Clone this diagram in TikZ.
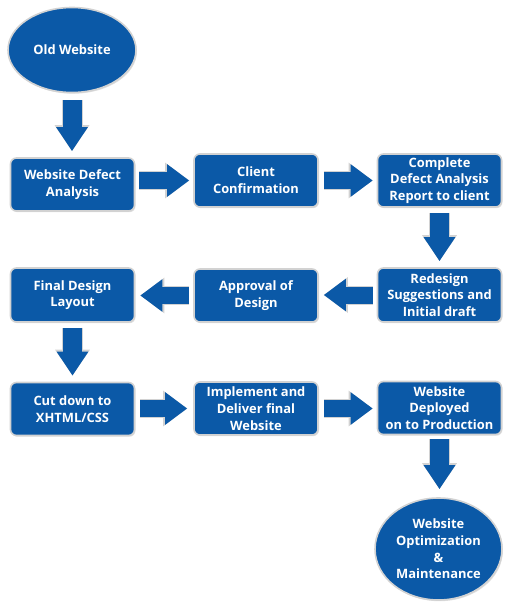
\documentclass[tikz,border=0pt]{standalone}
\usepackage{fontspec}
\setmainfont{Open Sans}
\usetikzlibrary{shapes.geometric,arrows.meta,shadows}
\definecolor{bl}{HTML}{0B59A7}
\definecolor{rim}{HTML}{D2D2D2}
\begin{document}
\begin{tikzpicture}[x=1pt,y=-1pt,
  txt/.style={text=white,font=\fontsize{12.9}{16.7}\selectfont\bfseries,align=center},
  box/.style={txt,rectangle,rounded corners=6pt,fill=bl,draw=rim,line width=1.6pt,
    minimum width=124pt,minimum height=53pt,inner sep=0pt,
    drop shadow={shadow xshift=1pt,shadow yshift=-1.2pt,opacity=0.25}},
  oval/.style={txt,ellipse,fill=bl,draw=rim,line width=1.6pt,inner sep=0pt,
    drop shadow={shadow xshift=1pt,shadow yshift=-1.2pt,opacity=0.25}},
  harrow/.style={draw=bl,line width=17pt,-{Triangle[length=22pt,width=31pt]},
    preaction={draw=rim,line width=19pt,-{Triangle[length=24pt,width=34pt]}}},
  varrow/.style={draw=bl,line width=19pt,-{Triangle[length=24pt,width=30pt]},
    preaction={draw=rim,line width=21pt,-{Triangle[length=26pt,width=33pt]}}}]
\useasboundingbox (0,0) rectangle (511,605);

\node[oval,minimum width=128pt,minimum height=85pt] (old) at (72,50) {Old Website};

\node[box] (b1) at (72.5,184.5) {Website Defect\\Analysis};
\node[box] (b2) at (256,180.5) {Client\\Confirmation};
\node[box] (b3) at (439.5,180.5) {Complete\\Defect Analysis\\Report to client};

\node[box,minimum height=54pt] (b4) at (72.5,295) {Final Design\\Layout};
\node[box] (b5) at (256,295.5) {Approval of\\Design};
\node[box,minimum height=54pt] (b6) at (439.5,295) {Redesign\\Suggestions and\\Initial draft};

\node[box] (b7) at (72.5,409) {Cut down to\\XHTML/CSS};
\node[box] (b8) at (256,408.5) {Implement and\\Deliver final\\Website};
\node[box] (b9) at (439.5,408) {Website\\Deployed\\on to Production};

\node[oval,minimum width=127pt,minimum height=102pt] (fin) at (438.5,549)
  {Website\\Optimization\\\&\\Maintenance};

% vertical arrows
\draw[varrow,shorten <=7pt,shorten >=6pt] (old.south) -- (old.south |- b1.north);
\draw[varrow,shorten <=5pt,shorten >=6pt] (b3.south) -- (b6.north);
\draw[varrow,shorten <=5pt,shorten >=6pt] (b4.south) -- (b7.north);
\draw[varrow,shorten <=4pt,shorten >=8pt] (b9.south) -- (b9.south |- fin.north);

% horizontal arrows
\draw[harrow,shorten <=4pt,shorten >=4pt] (b1.east |- b2) -- (b2.west);
\draw[harrow,shorten <=5pt,shorten >=4pt] (b2.east) -- (b3.west);
\draw[harrow,shorten <=4pt,shorten >=5pt] (b6.west) -- (b5.east |- b6);
\draw[harrow,shorten <=4pt,shorten >=5pt] (b5.west) -- (b4.east |- b5);
\draw[harrow,shorten <=5pt,shorten >=6pt] (b7.east |- b8) -- (b8.west);
\draw[harrow,shorten <=5pt,shorten >=4pt] (b8.east) -- (b9.west |- b8);
\end{tikzpicture}
\end{document}
